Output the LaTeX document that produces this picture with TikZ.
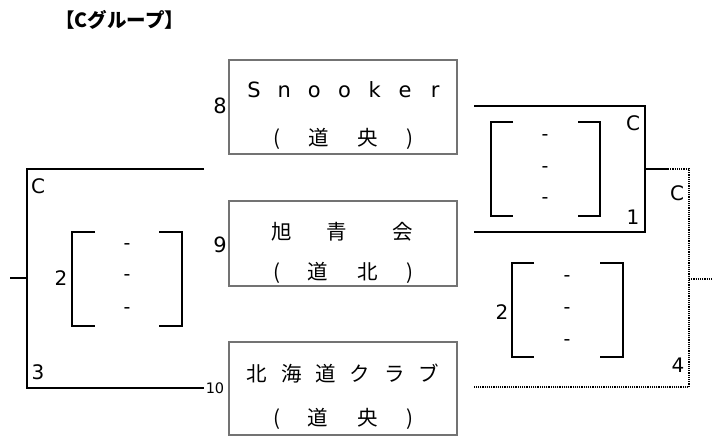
\documentclass[tikz,border=0pt]{standalone}
\usepackage{fontspec}
\setmainfont{DejaVu Sans}
\newfontfamily\jp{Noto Sans CJK JP}
\begin{document}
\begin{tikzpicture}[x=1pt,y=-1pt,
  teambox/.style={draw=black!55, line width=1.6pt, minimum width=228pt, inner sep=0pt},
  ln/.style={line width=1.2pt, black},
  dln/.style={line width=1.2pt, black, densely dotted},
  lbl/.style={inner sep=0pt, font=\fontsize{20}{20}\selectfont},
  big/.style={inner sep=0pt, font=\fontsize{21}{21}\selectfont},
  ch/.style={inner sep=0pt, text height=15pt, text depth=4pt, font=\fontsize{21}{21}\selectfont},
  jch/.style={inner sep=0pt, text height=16pt, text depth=3pt, font=\jp\fontsize{20.5}{21}\selectfont},
  dsh/.style={inner sep=0pt, font=\fontsize{19}{19}\selectfont}]
\useasboundingbox (0,0) rectangle (715,436);
% title
\node[inner sep=0pt, anchor=west, font=\jp\bfseries\fontsize{19.5}{20}\selectfont] (title) at (55,20) {【Cグループ】};
% boxes
\node[teambox, minimum height=94pt] (b1) at (343,107) {};
\node[teambox, minimum height=85pt] (b2) at (343,243.5) {};
\node[teambox, minimum height=93pt] (b3) at (343,388.5) {};
% box 1 text
\foreach \c [count=\i] in {S,n,o,o,k,e,r}
  \node[ch] (s\i) at ({254+30.2*(\i-1)},92) {\c};
\node[jch] (p1a) at (277,139) {(};
\node[jch] (p1b) at (319,139) {道};
\node[jch] (p1c) at (368,139) {央};
\node[jch] (p1d) at (410,139) {)};
% box 2 text
\node[jch] (t2a) at (282,233) {旭};
\node[jch] (t2b) at (337,233) {青};
\node[jch] (t2c) at (403,233) {会};
\node[jch] (p2a) at (277,273) {(};
\node[jch] (p2b) at (318,273) {道};
\node[jch] (p2c) at (368,273) {北};
\node[jch] (p2d) at (410,273) {)};
% box 3 text
\foreach \c [count=\i] in {北,海,道,ク,ラ,ブ}
  \node[jch] (t3\i) at ({257+34.4*(\i-1)},375) {\c};
\node[jch] (p3a) at (277,419) {(};
\node[jch] (p3b) at (318,419) {道};
\node[jch] (p3c) at (368,419) {央};
\node[jch] (p3d) at (410,419) {)};
% seed numbers
\node[big] (n8) at (220,106) {8};
\node[big] (n9) at (220,245) {9};
\node[inner sep=0pt, font=\fontsize{14.5}{15}\selectfont] (n10) at (215,388) {10};
% left bracket
\coordinate (la) at (204,169);
\coordinate (lb) at (27,169);
\coordinate (lc) at (27,388);
\coordinate (ld) at (204,388);
\coordinate (lm) at (27,278);
\coordinate (ls) at (10,278);
\draw[ln] (la) -- (lb) -- (lc) -- (ld);
\draw[ln] (ls) -- (lm);
\node[lbl] (lC) at (38,186) {C};
\node[lbl] (l3) at (38,372) {3};
\node[lbl] (l2) at (61,278) {2};
\draw[ln] (95,232) -- (72,232) -- (72,326) -- (95,326);
\draw[ln] (159,232) -- (182,232) -- (182,326) -- (159,326);
\node[dsh] (ld1) at (127,247) {-};
\node[dsh] (ld2) at (127,278) {-};
\node[dsh] (ld3) at (127,311) {-};
% right top bracket
\coordinate (ra) at (474,106);
\coordinate (rb) at (645,106);
\coordinate (rc) at (645,232);
\coordinate (rd) at (474,232);
\coordinate (rm) at (645,169);
\coordinate (rs) at (668,169);
\draw[ln] (ra) -- (rb) -- (rc) -- (rd);
\draw[ln] (rm) -- (rs);
\node[lbl] (rC) at (633,123) {C};
\node[lbl] (r1) at (633,217) {1};
\draw[ln] (513,122) -- (491,122) -- (491,216) -- (513,216);
\draw[ln] (578,122) -- (600,122) -- (600,216) -- (578,216);
\node[dsh] (rd1) at (545,138) {-};
\node[dsh] (rd2) at (545,170) {-};
\node[dsh] (rd3) at (545,201) {-};
% final dotted bracket
\coordinate (fa) at (689,169);
\coordinate (fb) at (689,387);
\coordinate (fc) at (474,387);
\coordinate (fm) at (689,279);
\coordinate (fs) at (713,279);
\draw[dln] (rs) -- (fa) -- (fb) -- (fc);
\draw[dln] (fm) -- (fs);
\node[lbl] (fC) at (677,193) {C};
\node[lbl] (f4) at (678,365) {4};
\node[lbl] (f2) at (502,312) {2};
\draw[ln] (534,263) -- (512,263) -- (512,357) -- (534,357);
\draw[ln] (600,263) -- (623,263) -- (623,357) -- (600,357);
\node[dsh] (fd1) at (567,279) {-};
\node[dsh] (fd2) at (567,311) {-};
\node[dsh] (fd3) at (567,343) {-};
\end{tikzpicture}
\end{document}
